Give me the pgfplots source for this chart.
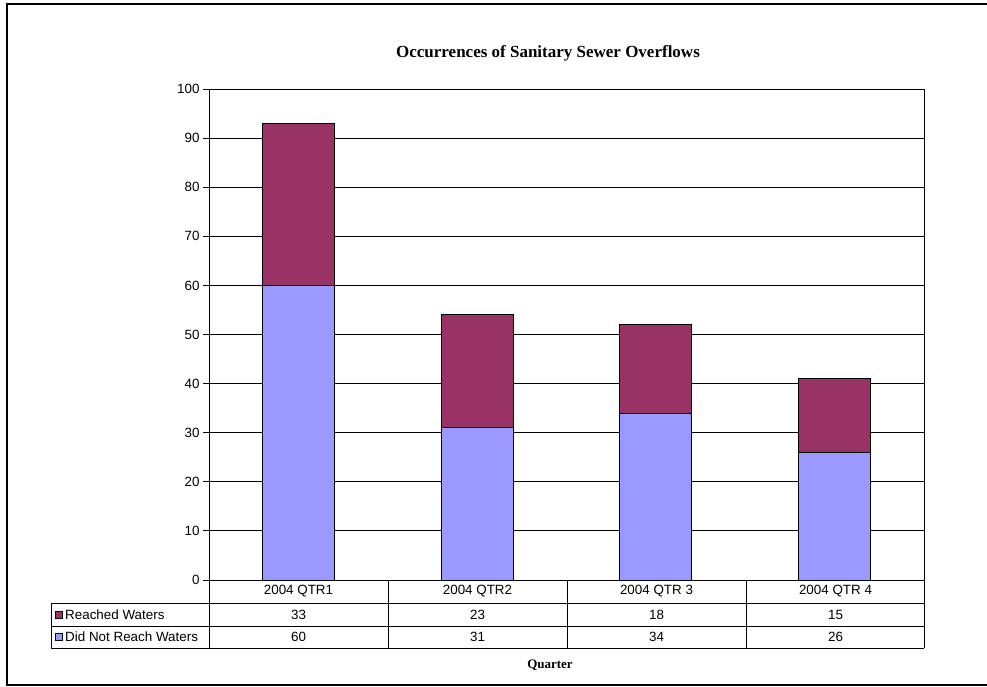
\documentclass[border=0pt]{standalone}
\usepackage{fontspec}
\setmainfont{Liberation Sans}
\newfontfamily\serifbf{Liberation Serif}
\usepackage{pgfplots}
\pgfplotsset{compat=1.18}
\definecolor{reached}{HTML}{993366}
\definecolor{notreach}{HTML}{9999FF}
\newcommand{\tabfont}{\fontsize{13.4}{15}\selectfont}

\begin{document}
\begin{tikzpicture}
\useasboundingbox (0,0) rectangle (987pt,687pt);
% outer frame
\draw[line width=2.8pt] (987pt,2pt) -- (7pt,2pt) -- (7pt,683pt) -- (987pt,683pt);

\begin{axis}[
    at={(209pt,107pt)}, anchor=south west,
    scale only axis,
    width=715pt, height=491pt,
    ybar stacked,
    bar width=72pt,
    xmin=0.5, xmax=4.5,
    ymin=0, ymax=100,
    xtick=\empty,
    ytick={0,10,...,100},
    ytick pos=left,
    ymajorgrids,
    grid style={black, line width=0.9pt},
    axis line style={line width=0.9pt},
    tick style={black, line width=0.9pt},
    tick align=outside,
    major tick length=6pt,
    yticklabel style={font=\tabfont},
    /pgf/number format/assume math mode=true,
    clip=false,
]
\addplot[fill=notreach, draw=black, line width=0.9pt] coordinates {(1,60) (2,31) (3,34) (4,26)};
\addplot[fill=reached, draw=black, line width=0.9pt] coordinates {(1,33) (2,23) (3,18) (4,15)};
\end{axis}

% data table
\begin{scope}[line width=0.9pt]
\draw (51pt,84pt) -- (924pt,84pt);
\draw (51pt,61pt) -- (924pt,61pt);
\draw (51pt,39pt) -- (924pt,39pt);
\draw (51pt,84pt) -- (51pt,39pt);
\foreach \x in {209,388,567,746,924} \draw (\x pt,107pt) -- (\x pt,39pt);
\end{scope}
\foreach \x/\c/\a/\b in {298.5/2004 QTR1/33/60, 477.5/2004 QTR2/23/31, 656.5/2004 QTR 3/18/34, 835.5/2004 QTR 4/15/26} {
  \node[font=\tabfont] at (\x pt,95.5pt) {\c};
  \node[font=\tabfont] at (\x pt,72.5pt) {\a};
  \node[font=\tabfont] at (\x pt,50pt) {\b};
}
\draw[fill=reached, line width=0.8pt] (55pt,69pt) rectangle (62pt,76pt);
\draw[fill=notreach, line width=0.8pt] (55pt,46.5pt) rectangle (62pt,53.5pt);
\node[font=\tabfont, anchor=west, inner sep=0pt] at (65pt,72.5pt) {Reached Waters};
\node[font=\tabfont, anchor=west, inner sep=0pt] at (65pt,50pt) {Did Not Reach Waters};

% titles
\node[font=\serifbf\bfseries\fontsize{17}{20}\selectfont] at (548pt,634pt) {Occurrences of Sanitary Sewer Overflows};
\node[font=\serifbf\bfseries\fontsize{13}{15}\selectfont] at (550pt,22pt) {Quarter};
\end{tikzpicture}
\end{document}
